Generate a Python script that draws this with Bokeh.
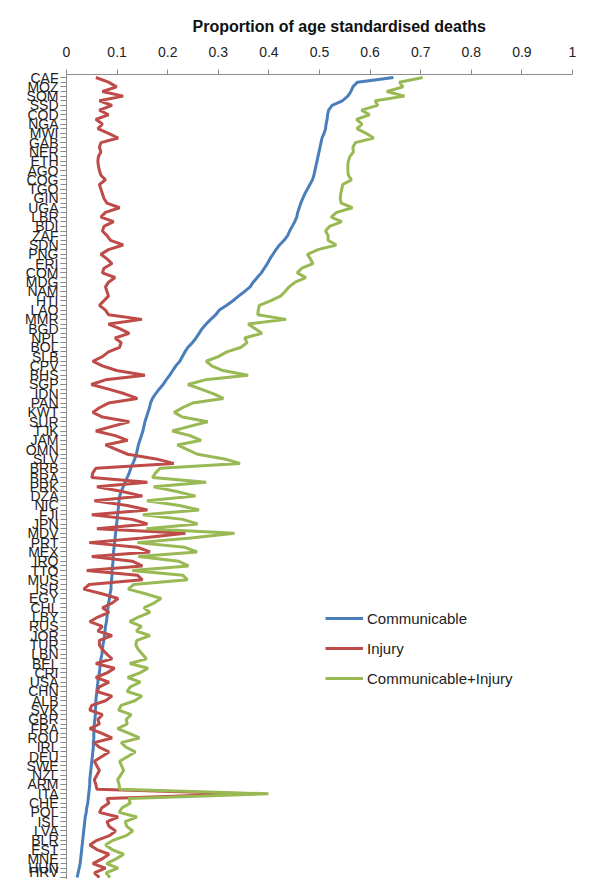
import numpy as np
from bokeh.plotting import figure
from bokeh.models import Range1d, FixedTicker, Legend, LegendItem, ColumnDataSource, Title
from bokeh.embed import file_html
from bokeh.resources import INLINE

# Country labels (every second country is labelled on the axis)
labels = ["CAF", "MOZ", "SOM", "SSD", "COD", "NGA", "MWI", "GAB", "NER", "ETH",
          "AGO", "COG", "TGO", "GIN", "UGA", "LBR", "BDI", "ZAF", "SDN", "PNG",
          "ERI", "COM", "MDG", "NAM", "HTI", "LAO", "MMR", "BGD", "NPL", "BOL",
          "SLB", "CPV", "BHS", "SGP", "IDN", "PAN", "KWT", "SUR", "TJK", "JAM",
          "OMN", "SLV", "BRB", "BRA", "PRK", "DZA", "NIC", "FJI", "JPN", "MDV",
          "PRT", "MEX", "IRQ", "TTO", "MUS", "ISR", "EGY", "CHL", "LBY", "RUS",
          "JOR", "TUR", "LBN", "BEL", "CRI", "USA", "CHN", "ALB", "SVK", "GBR",
          "FRA", "ROU", "IRL", "DEU", "SWE", "NZL", "ARM", "ITA", "CHE", "POL",
          "ISL", "LVA", "BLR", "EST", "MNE", "HUN", "HRV"]

communicable = [
    0.646, 0.575, 0.566, 0.562, 0.556, 0.545, 0.525, 0.518, 0.516, 0.515,
    0.513, 0.512, 0.509, 0.505, 0.503, 0.501, 0.499, 0.497, 0.495, 0.493,
    0.491, 0.489, 0.486, 0.481, 0.476, 0.471, 0.467, 0.463, 0.460, 0.457,
    0.455, 0.451, 0.446, 0.441, 0.437, 0.430, 0.421, 0.414, 0.408, 0.402,
    0.397, 0.391, 0.385, 0.377, 0.369, 0.363, 0.352, 0.340, 0.329, 0.316,
    0.302, 0.295, 0.285, 0.276, 0.268, 0.262, 0.256, 0.249, 0.240, 0.234,
    0.229, 0.224, 0.216, 0.210, 0.204, 0.197, 0.191, 0.183, 0.176, 0.170,
    0.166, 0.164, 0.161, 0.158, 0.155, 0.153, 0.151, 0.148, 0.145, 0.142,
    0.140, 0.138, 0.135, 0.131, 0.127, 0.124, 0.120, 0.116, 0.112, 0.108,
    0.105, 0.104, 0.103, 0.102, 0.101, 0.100, 0.099, 0.098, 0.097, 0.096,
    0.095, 0.094, 0.093, 0.092, 0.092, 0.091, 0.090, 0.090, 0.089, 0.088,
    0.088, 0.086, 0.085, 0.083, 0.082, 0.081, 0.080, 0.079, 0.077, 0.076,
    0.075, 0.074, 0.072, 0.071, 0.070, 0.068, 0.067, 0.066, 0.065, 0.063,
    0.062, 0.061, 0.060, 0.059, 0.058, 0.058, 0.057, 0.057, 0.056, 0.055,
    0.055, 0.054, 0.054, 0.053, 0.053, 0.052, 0.051, 0.050, 0.049, 0.048,
    0.047, 0.046, 0.046, 0.045, 0.044, 0.043, 0.042, 0.040, 0.039, 0.037,
    0.036, 0.035, 0.034, 0.033, 0.032, 0.031, 0.030, 0.029, 0.028, 0.027,
    0.025, 0.023, 0.021]

injury = [
    0.058, 0.083, 0.099, 0.071, 0.112, 0.065, 0.090, 0.065, 0.083, 0.058,
    0.071, 0.062, 0.083, 0.102, 0.068, 0.065, 0.068, 0.063, 0.062, 0.063,
    0.065, 0.068, 0.077, 0.065, 0.068, 0.071, 0.074, 0.080, 0.105, 0.077,
    0.068, 0.093, 0.074, 0.071, 0.080, 0.087, 0.112, 0.083, 0.068, 0.080,
    0.090, 0.074, 0.071, 0.096, 0.083, 0.077, 0.080, 0.083, 0.074, 0.065,
    0.077, 0.083, 0.149, 0.083, 0.105, 0.124, 0.096, 0.108, 0.105, 0.083,
    0.071, 0.052, 0.071, 0.099, 0.155, 0.077, 0.049, 0.083, 0.115, 0.140,
    0.083, 0.065, 0.052, 0.071, 0.124, 0.090, 0.058, 0.096, 0.121, 0.077,
    0.099, 0.121, 0.177, 0.212, 0.058, 0.052, 0.050, 0.160, 0.060, 0.110,
    0.150, 0.055, 0.120, 0.160, 0.050, 0.130, 0.160, 0.060, 0.235, 0.150,
    0.045, 0.140, 0.165, 0.050, 0.130, 0.150, 0.040, 0.140, 0.150, 0.045,
    0.034, 0.070, 0.102, 0.090, 0.071, 0.084, 0.062, 0.046, 0.071, 0.062,
    0.090, 0.065, 0.065, 0.071, 0.080, 0.090, 0.058, 0.095, 0.080, 0.058,
    0.084, 0.065, 0.060, 0.090, 0.077, 0.050, 0.046, 0.071, 0.062, 0.065,
    0.046, 0.070, 0.090, 0.055, 0.065, 0.084, 0.070, 0.055, 0.060, 0.065,
    0.060, 0.055, 0.058, 0.060, 0.355, 0.080, 0.084, 0.070, 0.065, 0.102,
    0.080, 0.084, 0.097, 0.085, 0.060, 0.046, 0.060, 0.084, 0.070, 0.052,
    0.077, 0.055, 0.065]

x_ticks = [0, 0.1, 0.2, 0.3, 0.4, 0.5, 0.6, 0.7, 0.8, 0.9, 1]
x_tick_labels = ["0", "0.1", "0.2", "0.3", "0.4", "0.5", "0.6", "0.7", "0.8", "0.9", "1"]
x_title = "Proportion of age standardised deaths"

n = len(communicable)
idx = np.arange(n)
comm = np.array(communicable)
inj = np.array(injury)
both = comm + inj

src = ColumnDataSource(dict(y=idx, comm=comm, inj=inj, both=both))

p = figure(width=589, height=879, output_backend="svg", toolbar_location=None,
           x_axis_location="above", x_range=Range1d(0, 1),
           y_range=Range1d(n - 1 + 0.43, -0.65),
           min_border_left=66, min_border_right=17, min_border_top=74,
           min_border_bottom=0)
p.outline_line_color = None
p.xgrid.visible = False
p.ygrid.visible = False
p.background_fill_color = "white"
p.border_fill_color = "white"

blue = "#4A7EBB"
red = "#BE4B48"
green = "#98B954"

r1 = p.line("comm", "y", source=src, line_color=blue, line_width=3)
r2 = p.line("inj", "y", source=src, line_color=red, line_width=3)
r3 = p.line("both", "y", source=src, line_color=green, line_width=3)

font = "Liberation Sans"
xa = p.xaxis[0]
xa.ticker = FixedTicker(ticks=x_ticks)
xa.major_label_overrides = {t: l for t, l in zip(x_ticks, x_tick_labels)}
xa.major_label_text_font = font
xa.major_label_text_font_size = "14px"
xa.major_label_text_color = "#222222"
xa.major_label_standoff = 13
xa.axis_line_color = "#8C8C8C"
xa.major_tick_line_color = "#8C8C8C"
xa.major_tick_out = 5
xa.major_tick_in = 0
xa.minor_tick_out = 0
xa.minor_tick_in = 0

p.add_layout(Title(text=x_title, align="left", offset=126, standoff=17,
                   text_font=font, text_font_style="bold",
                   text_font_size="16px", text_color="#111111"), "above")

ya = p.yaxis[0]
major = [int(i) for i in idx[::2]]
ya.ticker = FixedTicker(ticks=major, minor_ticks=[int(i) for i in idx])
ya.major_label_overrides = {t: l for t, l in zip(major, labels)}
ya.major_label_text_font = font
ya.major_label_text_font_size = "14px"
ya.major_label_text_color = "#222222"
ya.major_label_standoff = 2
ya.axis_line_color = "#8C8C8C"
ya.major_tick_line_color = "#8C8C8C"
ya.minor_tick_line_color = "#8C8C8C"
ya.major_tick_out = 6
ya.major_tick_in = 0
ya.minor_tick_out = 6
ya.minor_tick_in = 0

legend = Legend(items=[LegendItem(label="Communicable", renderers=[r1]),
                       LegendItem(label="Injury", renderers=[r2]),
                       LegendItem(label="Communicable+Injury", renderers=[r3])],
                location=(259, 191), glyph_width=38, glyph_height=20,
                spacing=10, padding=0, margin=0, label_standoff=4,
                label_text_font=font, label_text_font_size="15px",
                label_text_color="#222222", border_line_color=None,
                background_fill_alpha=0)
p.add_layout(legend)

open("out.html", "w").write(file_html(p, INLINE))
